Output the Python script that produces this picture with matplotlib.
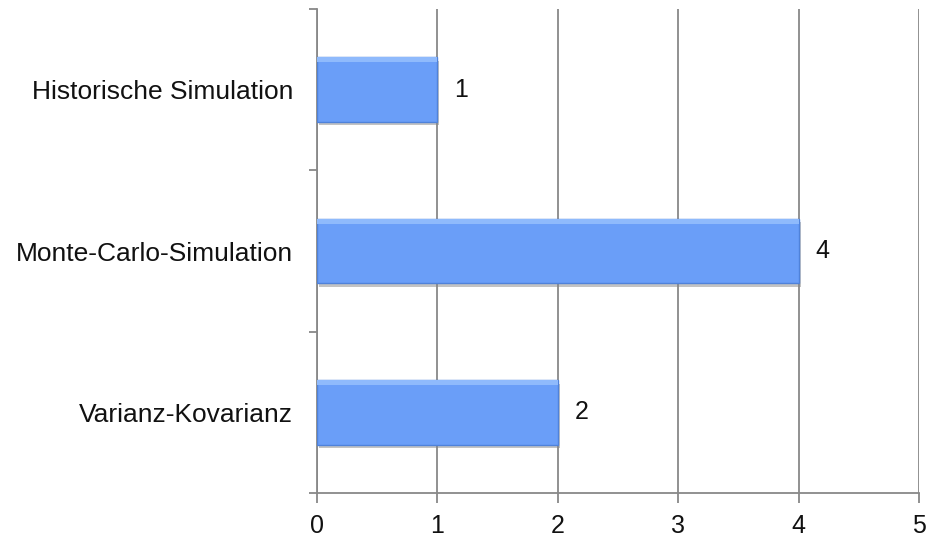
import numpy as np
import matplotlib.pyplot as plt
import matplotlib.patheffects as pe

plt.rcParams['font.family'] = ['Liberation Sans', 'DejaVu Sans']

# data (top to bottom as shown)
categories = ["Historische Simulation", "Monte-Carlo-Simulation", "Varianz-Kovarianz"]
values = [1, 4, 2]
xticks = [0, 1, 2, 3, 4, 5]

fig = plt.figure(figsize=(9.29, 5.37), dpi=100)
ax = fig.add_axes([0.3412, 0.0819, 0.648, 0.9013])

y = np.arange(len(categories))[::-1]
bars = ax.barh(y, values, height=0.4, color="#6a9ef8", edgecolor="#4f82da",
               linewidth=1.0, zorder=3)
for b in bars:
    b.set_path_effects([pe.SimplePatchShadow(offset=(1.5, -2.5), shadow_rgbFace="#888888", alpha=0.5),
                        pe.Normal()])
# light highlight along top edge
ax.barh(y + 0.2 - 0.015, values, height=0.03, color="#8fbafc", linewidth=0, zorder=4)

for yi, v in zip(y, values):
    ax.text(v + 0.14, yi, str(v), va="center", ha="left", fontsize=18, color="#111111")

ax.set_xlim(0, 5)
ax.set_ylim(-0.5, len(categories) - 0.5)
ax.set_xticks(xticks)
ax.set_xticklabels([str(t) for t in xticks], fontsize=18, color="#111111")
ax.set_yticks(y)
ax.set_yticklabels(categories, fontsize=19, color="#111111")
ax.set_yticks(np.arange(-0.5, len(categories), 1.0), minor=True)

ax.grid(axis="x", color="#888888", linewidth=1.3, zorder=0)
ax.set_axisbelow(True)
for s in ["top", "right"]:
    ax.spines[s].set_visible(False)
for s in ["left", "bottom"]:
    ax.spines[s].set_color("#888888")
    ax.spines[s].set_linewidth(1.3)

ax.tick_params(axis="x", length=7, width=1.3, color="#888888", pad=8)
ax.tick_params(axis="y", which="major", length=0, pad=17)
ax.tick_params(axis="y", which="minor", length=6, width=1.3, color="#888888")

fig.savefig("out.png", dpi=100)
